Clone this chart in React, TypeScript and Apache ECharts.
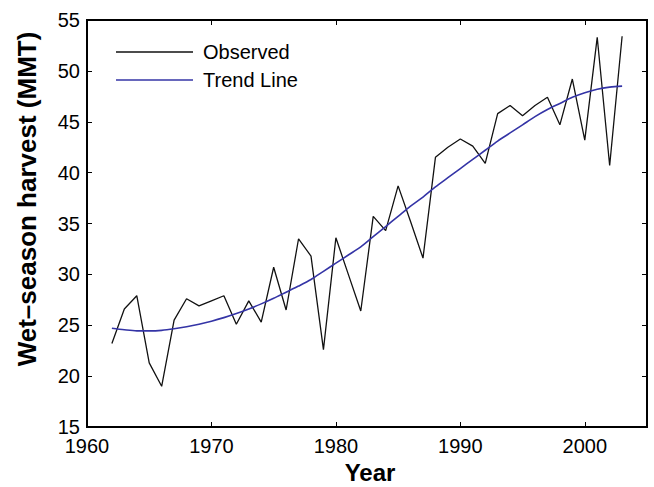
import React, { useEffect, useRef } from "react";
import * as echarts from "echarts";

const years: number[] = [
  1962, 1963, 1964, 1965, 1966, 1967, 1968, 1969, 1970, 1971,
  1972, 1973, 1974, 1975, 1976, 1977, 1978, 1979, 1980, 1981,
  1982, 1983, 1984, 1985, 1986, 1987, 1988, 1989, 1990, 1991,
  1992, 1993, 1994, 1995, 1996, 1997, 1998, 1999, 2000, 2001,
  2002, 2003,
];

const observed: number[] = [
  23.2, 26.6, 27.9, 21.3, 19.0, 25.5, 27.6, 26.9, 27.4, 27.9,
  25.1, 27.4, 25.3, 30.7, 26.5, 33.5, 31.8, 22.6, 33.6, 30.0,
  26.4, 35.7, 34.3, 38.7, 35.2, 31.6, 41.5, 42.5, 43.3, 42.6,
  40.9, 45.8, 46.6, 45.6, 46.6, 47.4, 44.7, 49.2, 43.2, 53.3,
  40.7, 53.4,
];

const trend: number[] = [
  24.7, 24.55, 24.45, 24.45, 24.5, 24.65, 24.85, 25.1, 25.4, 25.75,
  26.15, 26.6, 27.1, 27.65, 28.25, 28.85, 29.5, 30.3, 31.1, 31.9,
  32.7, 33.7, 34.7, 35.7, 36.7, 37.6, 38.6, 39.5, 40.4, 41.3,
  42.2, 43.1, 43.9, 44.7, 45.5, 46.2, 46.8, 47.4, 47.85, 48.2,
  48.4, 48.5,
];

const seriesNames: string[] = ["Observed", "Trend Line"];
const xTitle = "Year";
const yTitle = "Wet\u2013season harvest (MMT)";

const FONT = '"Liberation Sans", Arial, Helvetica, sans-serif';
const OBS_COLOR = "#111111";
const TREND_COLOR = "#3434a6";

export default function App() {
  const ref = useRef<HTMLDivElement>(null);

  useEffect(() => {
    if (!ref.current) return;
    const chart = echarts.init(ref.current, undefined, { renderer: "svg" });

    const obsData = years.map((y, i) => [y, observed[i]]);
    const trendData = years.map((y, i) => [y, trend[i]]);

    const tick = { show: true, inside: true, length: 5, lineStyle: { color: "#000", width: 1 } };

    chart.setOption({
      animation: false,
      backgroundColor: "#fff",
      textStyle: { fontFamily: FONT },
      grid: {
        show: true,
        left: 87,
        right: 7,
        top: 20,
        bottom: 60,
        borderColor: "#000",
        borderWidth: 2,
        backgroundColor: "#fff",
      },
      legend: {
        orient: "vertical",
        left: 116,
        top: 42,
        padding: 0,
        itemWidth: 77,
        itemHeight: 1.5,
        itemGap: 8,
        icon: "rect",
        data: seriesNames,
        textStyle: {
          fontFamily: FONT,
          fontSize: 20,
          lineHeight: 20,
          color: "#000",
          padding: [0, 0, 0, 5],
        },
      },
      xAxis: [
        {
          type: "value",
          position: "bottom",
          min: 1960,
          max: 2005,
          interval: 10,
          axisLine: { show: false },
          axisTick: tick,
          splitLine: { show: false },
          axisLabel: {
            margin: 9,
            fontSize: 20,
            lineHeight: 20,
            color: "#000",
            fontFamily: FONT,
            formatter: (v: number) => (v % 10 === 0 ? String(v) : ""),
          },
        },
        {
          type: "value",
          position: "top",
          min: 1960,
          max: 2005,
          interval: 10,
          axisLine: { show: false },
          axisTick: tick,
          splitLine: { show: false },
          axisLabel: { show: false },
        },
      ],
      yAxis: [
        {
          type: "value",
          position: "left",
          min: 15,
          max: 55,
          interval: 5,
          axisLine: { show: false },
          axisTick: tick,
          splitLine: { show: false },
          axisLabel: {
            margin: 7,
            fontSize: 20,
            lineHeight: 18,
            color: "#000",
            fontFamily: FONT,
          },
        },
        {
          type: "value",
          position: "right",
          min: 15,
          max: 55,
          interval: 5,
          axisLine: { show: false },
          axisTick: tick,
          splitLine: { show: false },
          axisLabel: { show: false },
        },
      ],
      series: [
        {
          name: seriesNames[0],
          type: "line",
          data: obsData,
          symbol: "none",
          lineStyle: { color: OBS_COLOR, width: 1.3 },
          itemStyle: { color: OBS_COLOR },
        },
        {
          name: seriesNames[1],
          type: "line",
          data: trendData,
          symbol: "none",
          smooth: 0.3,
          lineStyle: { color: TREND_COLOR, width: 1.6 },
          itemStyle: { color: TREND_COLOR },
        },
      ],
      graphic: [
        {
          type: "text",
          x: 27,
          y: 199,
          rotation: Math.PI / 2,
          style: {
            text: yTitle,
            fontFamily: FONT,
            fontSize: 26,
            fontWeight: "bold",
            fill: "#000",
            align: "center",
            verticalAlign: "middle",
          },
        },
        {
          type: "text",
          x: 370,
          y: 472,
          style: {
            text: xTitle,
            fontFamily: FONT,
            fontSize: 24,
            fontWeight: "bold",
            fill: "#000",
            align: "center",
            verticalAlign: "middle",
          },
        },
      ],
    });

    return () => chart.dispose();
  }, []);

  return (
    <div
      ref={ref}
      style={{ position: "absolute", left: 0, top: 0, width: 654, height: 487 }}
    />
  );
}
